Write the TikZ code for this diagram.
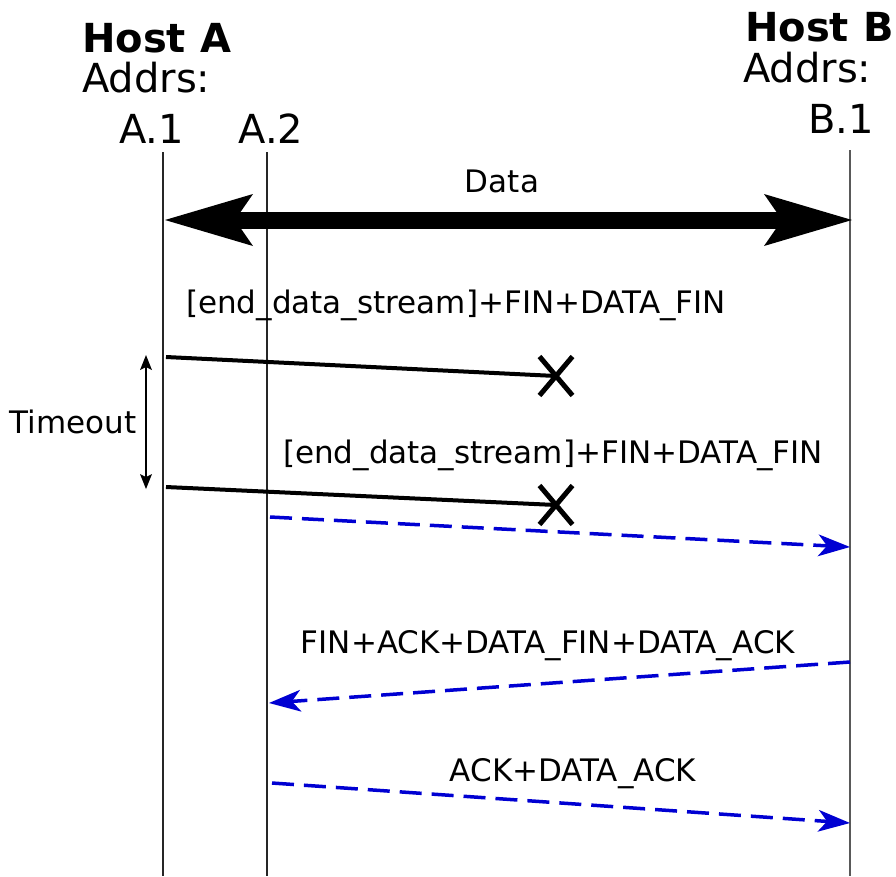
\documentclass[tikz,border=0pt]{standalone}
\usepackage{fontspec}
\setmainfont{DejaVu Sans}
\usetikzlibrary{arrows.meta,shapes.misc}
\definecolor{msgblue}{RGB}{0,0,210}
\begin{document}
\begin{tikzpicture}[x=1pt,y=-1pt,
  lifeline/.style={line width=2.5pt, black!85},
  headtxt/.style={font=\fontsize{40}{48}\selectfont, anchor=base west, inner sep=0pt},
  addrtxt/.style={font=\fontsize{40}{48}\selectfont, anchor=base, inner sep=0pt},
  lbl/.style={font=\fontsize{31}{37}\selectfont, anchor=base, inner sep=0pt},
  lostmsg/.style={line width=4pt, black},
  dropmark/.style={cross out, draw, line width=5pt, minimum width=28pt, minimum height=34pt, inner sep=0pt},
  msg/.style={line width=3.5pt, msgblue, dash pattern=on 22pt off 10pt,
    -{Stealth[length=32pt,width=22pt,inset=9pt,line width=0pt]}},
  bigarrow/.style={line width=17pt,
    {Stealth[length=88pt,width=52pt,inset=18pt,line width=0pt]}-{Stealth[length=88pt,width=52pt,inset=18pt,line width=0pt]}},
  timer/.style={line width=2pt,
    {Stealth[length=15pt,width=12pt,inset=3pt,line width=0pt]}-{Stealth[length=15pt,width=12pt,inset=3pt,line width=0pt]}}
]
\useasboundingbox (0,0) rectangle (896,876);

% hosts and their addresses
\node[headtxt] (hostA) at (82,52) {\bfseries Host A};
\node[headtxt] (addrsA) at (82,92) {Addrs:};
\node[addrtxt] (lA1) at (151.5,143) {A.1};
\node[addrtxt] (lA2) at (271,143) {A.2};
\node[headtxt] (hostB) at (745,41) {\bfseries Host B};
\node[headtxt] (addrsB) at (743,82) {Addrs:};
\node[addrtxt] (lB1) at (841,133) {B.1};

% lifelines
\coordinate (a1top) at (163,152); \coordinate (a1bot) at (163,876);
\coordinate (a2top) at (267,152); \coordinate (a2bot) at (267,876);
\coordinate (b1top) at (850,150); \coordinate (b1bot) at (850,876);
\draw[lifeline] (a1top) -- (a1bot);
\draw[lifeline] (a2top) -- (a2bot);
\draw[lifeline, black!65] (b1top) -- (b1bot);

% data exchange
\coordinate (dA) at (165,220);
\coordinate (dB) at (852,220);
\draw[bigarrow] (dA) -- (dB);
\node[lbl] (data) at (502,192) {Data};

% lost FIN segments
\coordinate (f1) at (166,357);
\node[dropmark] (x1) at (556,376) {};
\draw[lostmsg] (f1) -- (x1.center);
\node[lbl] (m1) at (456,313) {[end\_data\_stream]+FIN+DATA\_FIN};

\coordinate (f2) at (166,487);
\node[dropmark] (x2) at (556,505) {};
\draw[lostmsg] (f2) -- (x2.center);
\node[lbl] (m2) at (553,463) {[end\_data\_stream]+FIN+DATA\_FIN};

% retransmission timer
\coordinate (t1) at (146,355);
\coordinate (t2) at (146,489);
\draw[timer] (t1) -- (t2);
\node[lbl] (tout) at (73,433) {Timeout};

% successful exchange on the second subflow
\coordinate (s1) at (270,517); \coordinate (r1) at (850,547);
\draw[msg] (s1) -- (r1);

\coordinate (s2) at (850,662); \coordinate (r2) at (269,703);
\draw[msg] (s2) -- (r2);
\node[lbl] (m3) at (548,653) {FIN+ACK+DATA\_FIN+DATA\_ACK};

\coordinate (s3) at (272,783); \coordinate (r3) at (850,823);
\draw[msg] (s3) -- (r3);
\node[lbl] (m4) at (573,781) {ACK+DATA\_ACK};
\end{tikzpicture}
\end{document}
